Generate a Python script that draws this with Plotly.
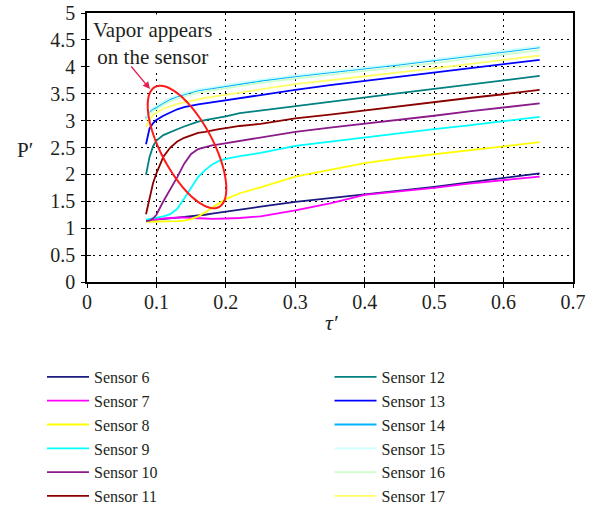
import numpy as np
import plotly.graph_objects as go

# ---------------- data ----------------
tau = [0.085, 0.09, 0.095, 0.1, 0.11, 0.12, 0.13, 0.14, 0.15, 0.16, 0.17, 0.18,
       0.19, 0.2, 0.22, 0.25, 0.3, 0.35, 0.4, 0.45, 0.5, 0.55, 0.6, 0.652]

s6 = [1.14, 1.145, 1.15, 1.16, 1.17, 1.18, 1.195, 1.21, 1.22, 1.24, 1.25, 1.27,
      1.29, 1.31, 1.34, 1.40, 1.49, 1.56, 1.63, 1.69, 1.77, 1.85, 1.94, 2.02]
s7 = [1.14, 1.15, 1.16, 1.17, 1.18, 1.19, 1.20, 1.20, 1.19, 1.18, 1.18, 1.175,
      1.175, 1.18, 1.19, 1.22, 1.33, 1.46, 1.62, 1.68, 1.75, 1.83, 1.90, 1.96]
s8 = [1.12, 1.12, 1.12, 1.12, 1.12, 1.12, 1.13, 1.14, 1.17, 1.22, 1.29, 1.38,
      1.46, 1.54, 1.65, 1.76, 1.96, 2.09, 2.21, 2.30, 2.37, 2.45, 2.52, 2.60]
s9 = [1.16, 1.17, 1.18, 1.19, 1.22, 1.26, 1.36, 1.55, 1.76, 1.95, 2.08, 2.18,
      2.25, 2.29, 2.34, 2.40, 2.53, 2.61, 2.68, 2.76, 2.84, 2.91, 2.99, 3.07]
s10 = [1.13, 1.14, 1.18, 1.25, 1.50, 1.72, 1.95, 2.20, 2.38, 2.47, 2.51, 2.54,
       2.56, 2.58, 2.63, 2.69, 2.79, 2.87, 2.94, 3.02, 3.09, 3.17, 3.24, 3.32]
s11 = [1.26, 1.55, 1.83, 2.02, 2.33, 2.50, 2.61, 2.68, 2.73, 2.77, 2.79, 2.82,
       2.84, 2.86, 2.90, 2.94, 3.04, 3.11, 3.19, 3.26, 3.34, 3.42, 3.49, 3.57]
s12 = [1.99, 2.32, 2.52, 2.63, 2.73, 2.79, 2.84, 2.89, 2.94, 2.98, 3.01, 3.03,
       3.06, 3.08, 3.14, 3.19, 3.27, 3.35, 3.43, 3.51, 3.59, 3.67, 3.75, 3.83]
s13 = [2.56, 2.85, 2.95, 3.01, 3.09, 3.15, 3.21, 3.25, 3.28, 3.30, 3.32, 3.34,
       3.36, 3.38, 3.42, 3.47, 3.57, 3.66, 3.74, 3.81, 3.89, 3.97, 4.05, 4.13]
s14 = [3.04, 3.16, 3.21, 3.24, 3.33, 3.40, 3.45, 3.49, 3.53, 3.56, 3.58, 3.60,
       3.62, 3.64, 3.68, 3.74, 3.82, 3.89, 3.96, 4.04, 4.12, 4.20, 4.28, 4.36]
s15 = [3.07, 3.19, 3.24, 3.27, 3.35, 3.42, 3.47, 3.51, 3.55, 3.58, 3.60, 3.62,
       3.64, 3.66, 3.70, 3.76, 3.84, 3.91, 3.98, 4.06, 4.14, 4.22, 4.30, 4.38]
s16 = [3.00, 3.12, 3.18, 3.21, 3.29, 3.36, 3.41, 3.45, 3.49, 3.52, 3.54, 3.56,
       3.58, 3.60, 3.64, 3.70, 3.78, 3.85, 3.92, 3.99, 4.07, 4.15, 4.23, 4.31]
s17 = [2.88, 3.02, 3.10, 3.15, 3.22, 3.27, 3.31, 3.34, 3.37, 3.39, 3.42, 3.44,
       3.46, 3.48, 3.52, 3.58, 3.68, 3.75, 3.82, 3.89, 3.97, 4.05, 4.13, 4.21]

names = ["Sensor 6", "Sensor 7", "Sensor 8", "Sensor 9", "Sensor 10", "Sensor 11",
         "Sensor 12", "Sensor 13", "Sensor 14", "Sensor 15", "Sensor 16", "Sensor 17"]
series = [s6, s7, s8, s9, s10, s11, s12, s13, s14, s15, s16, s17]
colors = ["#1a1a80", "#ff00ff", "#ffff00", "#00ffff", "#8b1a8b", "#8b0000",
          "#008080", "#0000ff", "#00b4ff", "#ccffff", "#ccffcc", "#ffff66"]

x_ticks = [0, 0.1, 0.2, 0.3, 0.4, 0.5, 0.6, 0.7]
y_ticks = [0, 0.5, 1, 1.5, 2, 2.5, 3, 3.5, 4, 4.5, 5]

# ---------------- layout constants ----------------
W, H = 595, 510
ML, MR, MT, MB = 87, 22, 13, 228
PW, PH = W - ML - MR, H - MT - MB
XR, YR = [0, 0.7], [0, 5]
FONT = "Liberation Serif"
TXT = "#231f20"


def px2data(px, py):
    return (XR[0] + (px - ML) / PW * (XR[1] - XR[0]),
            YR[0] + (MT + PH - py) / PH * (YR[1] - YR[0]))


def px2paper(px, py):
    return (px - ML) / PW, (MT + PH - py) / PH


fig = go.Figure()
for i, (nm, ys, c) in enumerate(zip(names, series, colors)):
    fig.add_trace(go.Scatter(
        x=tau, y=ys, mode="lines", name=nm,
        line=dict(color=c, width=1.8),
        legend="legend" if i < 6 else "legend2",
    ))

grid_dash = "1.5px,4.5px"
fig.update_layout(
    width=W, height=H,
    margin=dict(l=ML, r=MR, t=MT, b=MB, autoexpand=False),
    paper_bgcolor="white", plot_bgcolor="white",
    font=dict(family=FONT, size=18, color=TXT),
    showlegend=True,
    xaxis=dict(range=XR, tickvals=x_ticks, ticktext=[str(v) for v in x_ticks],
               showgrid=True, gridcolor="black", gridwidth=1, griddash=grid_dash,
               showline=True, linecolor="black", linewidth=1.5, mirror=True,
               ticks="outside", ticklen=4, tickcolor="black", zeroline=False,
               ticklabelstandoff=-3,
               tickfont=dict(size=20, family=FONT, color=TXT)),
    yaxis=dict(range=YR, tickvals=y_ticks, ticktext=[str(v) for v in y_ticks],
               showgrid=True, gridcolor="black", gridwidth=1, griddash=grid_dash,
               showline=True, linecolor="black", linewidth=1.5, mirror=True,
               ticks="outside", ticklen=4, tickcolor="black", zeroline=False,
               ticklabelstandoff=2,
               tickfont=dict(size=20, family=FONT, color=TXT)),
    xaxis2=dict(range=XR, overlaying="x", tickvals=x_ticks, ticks="inside",
                ticklen=4, tickcolor="black", showticklabels=False,
                showgrid=False, showline=False, zeroline=False, anchor="y"),
    yaxis2=dict(range=YR, overlaying="y", tickvals=y_ticks, ticks="inside",
                ticklen=4, tickcolor="black", showticklabels=False,
                showgrid=False, showline=False, zeroline=False, anchor="x",
                side="left"),
)

lx1, _ = px2paper(42, 0)
lx2, _ = px2paper(329.5, 0)
_, ly = px2paper(0, 360)
leg_font = dict(family=FONT, size=16, color=TXT)
fig.update_layout(
    legend=dict(x=lx1, y=ly, orientation="v", xanchor="left", yanchor="top",
                bgcolor="rgba(0,0,0,0)", borderwidth=0, itemwidth=42,
                font=leg_font, traceorder="normal"),
    legend2=dict(x=lx2, y=ly, orientation="v", xanchor="left", yanchor="top",
                 bgcolor="rgba(0,0,0,0)", borderwidth=0, itemwidth=42,
                 font=leg_font, traceorder="normal"),
)

# invisible trace to activate the overlay axes (inside tick marks)
fig.add_trace(go.Scatter(x=[None], y=[None], xaxis="x2", yaxis="y2",
                         showlegend=False, hoverinfo="skip"))

# axis titles
px_, py_ = px2paper(25, 150)
fig.add_annotation(text="P\u2032", x=px_, y=py_, xref="paper", yref="paper",
                   xanchor="center", yanchor="middle",
                   showarrow=False, font=dict(size=21, family=FONT, color=TXT))
px_, py_ = px2paper(332, 322)
fig.add_annotation(text="<i>\u03c4\u2032</i>", x=px_, y=py_, xref="paper", yref="paper",
                   xanchor="center", yanchor="middle",
                   showarrow=False, font=dict(size=22, family=FONT, color=TXT))

# callout text
ax_, ay_ = px2data(153, 14)
fig.add_annotation(text="Vapor appears<br>on the sensor", x=ax_, y=ay_,
                   xanchor="center", yanchor="top", align="center",
                   showarrow=False, bgcolor="white", borderpad=3,
                   font=dict(size=21, family=FONT, color=TXT))

# arrow
tx, ty = px2data(150, 89)
fig.add_annotation(text="", x=tx, y=ty, ax=-20, ay=-24, showarrow=True,
                   arrowhead=2, arrowsize=1.1, arrowwidth=1.3, arrowcolor="#e41e4e")

# hand-drawn ellipse
cx, cy, a, b, th = 187, 147, 68, 26, np.deg2rad(62)
t = np.linspace(0, 2 * np.pi, 90)
epx = cx + a * np.cos(t) * np.cos(th) - b * np.sin(t) * np.sin(th)
epy = cy + a * np.cos(t) * np.sin(th) + b * np.sin(t) * np.cos(th)
pts = [px2data(p, q) for p, q in zip(epx, epy)]
path = "M " + " L ".join(f"{p:.5f},{q:.5f}" for p, q in pts) + " Z"
fig.add_shape(type="path", path=path, xref="x", yref="y",
              line=dict(color="#ff1a1a", width=2))

fig.write_html("out.html")
